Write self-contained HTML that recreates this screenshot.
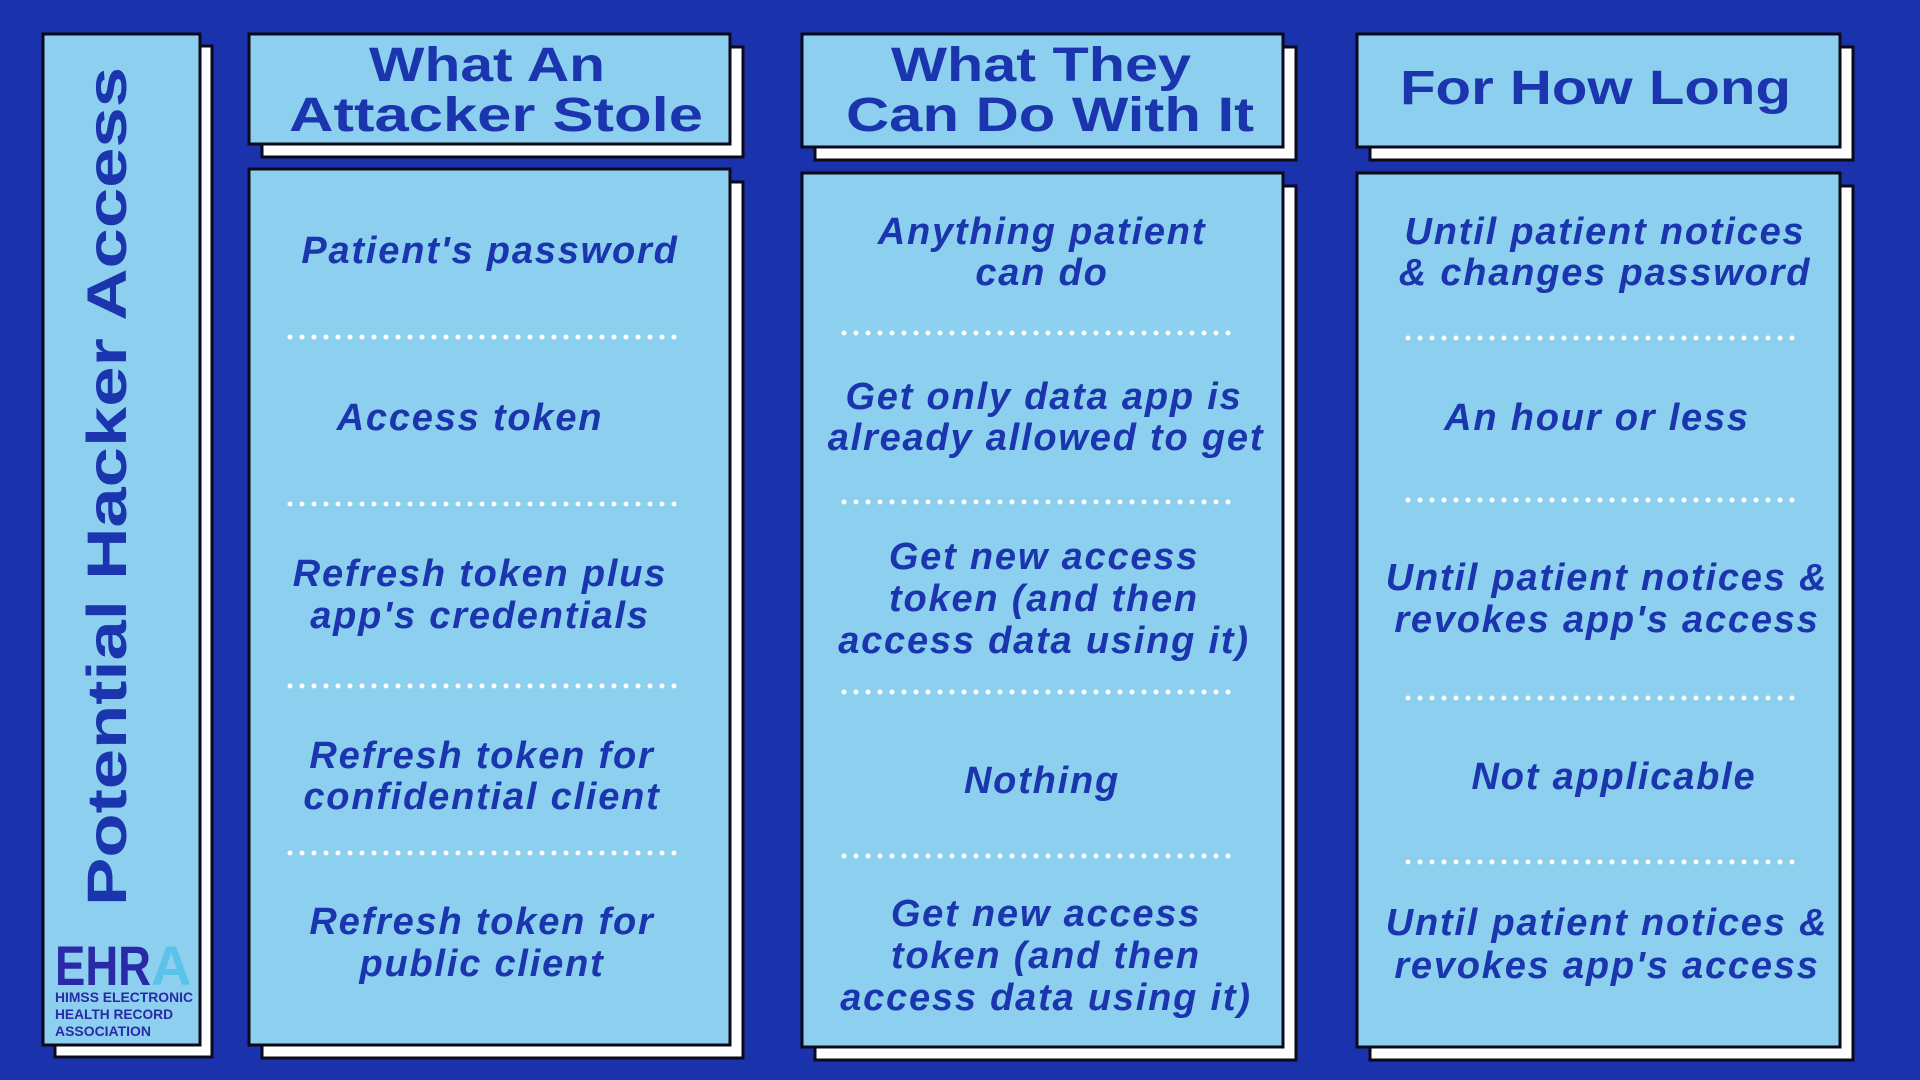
<!DOCTYPE html>
<html><head><meta charset="utf-8"><style>
html,body{margin:0;padding:0;background:#1a33ad;width:1920px;height:1080px;overflow:hidden}
svg{display:block}
.h{font-family:"Liberation Sans",sans-serif;font-weight:bold;fill:#1a35ad}
.b{font-family:"Liberation Sans",sans-serif;font-weight:bold;font-style:italic;font-size:38px;letter-spacing:1.8px;fill:#1a35ad;text-anchor:middle}
.d{stroke:#fff;stroke-width:5;stroke-linecap:round;stroke-dasharray:0 12}
</style></head><body>
<svg width="1920" height="1080" viewBox="0 0 1920 1080">
<rect width="1920" height="1080" fill="#1a33ad"/>
<g stroke="#0a0a1a" stroke-width="3">
<rect x="55" y="46" width="157" height="1011" fill="#fff"/>
<rect x="43" y="34" width="157" height="1011" fill="#8ccfee"/>
<rect x="262" y="47" width="481" height="110" fill="#fff"/>
<rect x="249" y="34" width="481" height="110" fill="#8ccfee"/>
<rect x="262" y="182" width="481" height="876" fill="#fff"/>
<rect x="249" y="169" width="481" height="876" fill="#8ccfee"/>
<rect x="815" y="47" width="481" height="113" fill="#fff"/>
<rect x="802" y="34" width="481" height="113" fill="#8ccfee"/>
<rect x="815" y="186" width="481" height="874" fill="#fff"/>
<rect x="802" y="173" width="481" height="874" fill="#8ccfee"/>
<rect x="1370" y="47" width="483" height="113" fill="#fff"/>
<rect x="1357" y="34" width="483" height="113" fill="#8ccfee"/>
<rect x="1370" y="186" width="483" height="874" fill="#fff"/>
<rect x="1357" y="173" width="483" height="874" fill="#8ccfee"/>
</g>
<text class="h" font-size="56" transform="translate(126,906) rotate(-90)" textLength="839" lengthAdjust="spacingAndGlyphs">Potential Hacker Access</text>
<text class="h" font-size="48" x="369" y="81" textLength="236" lengthAdjust="spacingAndGlyphs">What An</text>
<text class="h" font-size="48" x="289" y="131" textLength="414" lengthAdjust="spacingAndGlyphs">Attacker Stole</text>
<text class="h" font-size="48" x="891" y="81" textLength="300" lengthAdjust="spacingAndGlyphs">What They</text>
<text class="h" font-size="48" x="846" y="131" textLength="408" lengthAdjust="spacingAndGlyphs">Can Do With It</text>
<text class="h" font-size="48" x="1400" y="104" textLength="391" lengthAdjust="spacingAndGlyphs">For How Long</text>
<text x="55" y="985" font-family="Liberation Sans,sans-serif" font-weight="bold" font-size="56" fill="#2a2aa8" textLength="96" lengthAdjust="spacingAndGlyphs">EHR</text>
<text x="151" y="985" font-family="Liberation Sans,sans-serif" font-weight="bold" font-size="56" fill="#5bc3ea">A</text>
<g font-family="Liberation Sans,sans-serif" font-weight="bold" font-size="14" fill="#2a2aa8">
<text x="55" y="1002" textLength="138" lengthAdjust="spacingAndGlyphs">HIMSS ELECTRONIC</text>
<text x="55" y="1019" textLength="118" lengthAdjust="spacingAndGlyphs">HEALTH RECORD</text>
<text x="55" y="1036" textLength="96" lengthAdjust="spacingAndGlyphs">ASSOCIATION</text>
</g>
<g class="d">
<line x1="290" y1="337" x2="680" y2="337"/><line x1="290" y1="504" x2="680" y2="504"/>
<line x1="290" y1="686" x2="680" y2="686"/><line x1="290" y1="853" x2="680" y2="853"/>
<line x1="844" y1="333" x2="1234" y2="333"/><line x1="844" y1="502" x2="1234" y2="502"/>
<line x1="844" y1="692" x2="1234" y2="692"/><line x1="844" y1="856" x2="1234" y2="856"/>
<line x1="1408" y1="338" x2="1798" y2="338"/><line x1="1408" y1="500" x2="1798" y2="500"/>
<line x1="1408" y1="698" x2="1798" y2="698"/><line x1="1408" y1="862" x2="1798" y2="862"/>
</g>
<g class="b">
<text x="490" y="263">Patient's password</text>
<text x="470" y="430">Access token</text>
<text x="480" y="586">Refresh token plus</text>
<text x="480" y="628">app's credentials</text>
<text x="482" y="768">Refresh token for</text>
<text x="482" y="809">confidential client</text>
<text x="482" y="934">Refresh token for</text>
<text x="482" y="976">public client</text>

<text x="1042" y="244">Anything patient</text>
<text x="1042" y="285">can do</text>
<text x="1044" y="409">Get only data app is</text>
<text x="1046" y="450">already allowed to get</text>
<text x="1044" y="569">Get new access</text>
<text x="1044" y="611">token (and then</text>
<text x="1044" y="653">access data using it)</text>
<text x="1042" y="793">Nothing</text>
<text x="1046" y="926">Get new access</text>
<text x="1046" y="968">token (and then</text>
<text x="1046" y="1010">access data using it)</text>

<text x="1605" y="244">Until patient notices</text>
<text x="1605" y="285">&amp; changes password</text>
<text x="1597" y="430">An hour or less</text>
<text x="1607" y="590">Until patient notices &amp;</text>
<text x="1607" y="632">revokes app's access</text>
<text x="1614" y="789">Not applicable</text>
<text x="1607" y="935">Until patient notices &amp;</text>
<text x="1607" y="978">revokes app's access</text>
</g>
</svg>
</body></html>
